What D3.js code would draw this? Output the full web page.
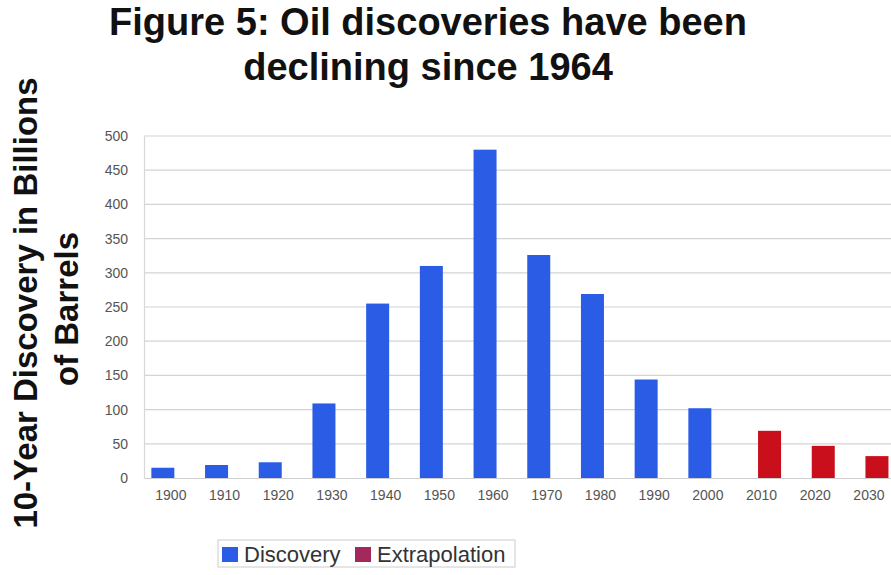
<!DOCTYPE html>
<html>
<head>
<meta charset="utf-8">
<script src="https://cdn.jsdelivr.net/npm/d3@7"></script>
<style>
  html, body { margin: 0; padding: 0; background: #fff; }
  svg { display: block; font-family: "Liberation Sans", Arial, sans-serif; }
</style>
</head>
<body>
<svg id="chart" width="891" height="575"></svg>
<script>
// ---- data ----
const categories = ["1900","1910","1920","1930","1940","1950","1960","1970","1980","1990","2000","2010","2020","2030"];
const seriesNames = ["Discovery", "Extrapolation"];
const discovery = [15, 19, 23, 109, 255, 310, 480, 326, 269, 144, 102, null, null, null];
const extrapolation = [null, null, null, null, null, null, null, null, null, null, null, 69, 47, 32];
const yTicks = [0, 50, 100, 150, 200, 250, 300, 350, 400, 450, 500];
const titleLines = ["Figure 5: Oil discoveries have been", "declining since 1964"];
const yTitleLines = ["10-Year Discovery in Billions", "of Barrels"];

const colors = { Discovery: "#2b5ce6", Extrapolation: "#c90f1c" };
const legendColors = { Discovery: "#2b5ce6", Extrapolation: "#a3295c" };

const svg = d3.select("#chart");
const plotLeft = 144, plotBottom = 478, plotTop = 136;
const step = 53.7;

const x0 = d3.scaleBand().domain(categories).range([plotLeft, plotLeft + step * categories.length]).padding(0);
const x1 = d3.scalePoint().domain(seriesNames).range([-8, 8]);
const y = d3.scaleLinear().domain([0, 500]).range([plotBottom, plotTop]);
const barW = 23;

// gridlines
svg.append("g")
  .selectAll("line")
  .data(yTicks.filter(d => d > 0))
  .join("line")
  .attr("x1", plotLeft).attr("x2", 891)
  .attr("y1", d => y(d)).attr("y2", d => y(d))
  .attr("stroke", "#d4d4d4").attr("stroke-width", 1.2);

// y axis
const yAxis = d3.axisLeft(y).tickValues(yTicks).tickSize(0).tickPadding(16);
const gy = svg.append("g").attr("transform", `translate(${plotLeft},0)`).call(yAxis);
gy.select(".domain").attr("stroke", "#d8d8d8").attr("stroke-width", 1.2);
gy.selectAll("text").attr("font-size", 14).attr("fill", "#555")
  .attr("font-family", "'Liberation Sans', Arial, sans-serif");

// x axis
const xAxis = d3.axisBottom(x0).tickSize(0).tickPadding(12);
const gx = svg.append("g").attr("transform", `translate(0,${plotBottom})`).call(xAxis);
gx.select(".domain").attr("stroke", "#cfcfcf").attr("stroke-width", 1.2);
gx.selectAll("text").attr("font-size", 14).attr("fill", "#555")
  .attr("font-family", "'Liberation Sans', Arial, sans-serif");

// bars
const rows = categories.map((c, i) => ({ c, Discovery: discovery[i], Extrapolation: extrapolation[i] }));
const barData = [];
rows.forEach(r => seriesNames.forEach(s => { if (r[s] != null) barData.push({ c: r.c, s, v: r[s] }); }));
svg.append("g").selectAll("rect")
  .data(barData)
  .join("rect")
  .attr("x", d => x0(d.c) + x0.bandwidth() / 2 + x1(d.s) - barW / 2)
  .attr("width", barW)
  .attr("y", d => y(d.v))
  .attr("height", d => y(0) - y(d.v))
  .attr("fill", d => colors[d.s]);

// title
const titleBaselines = [35, 80];
svg.append("g").selectAll("text")
  .data(titleLines)
  .join("text")
  .attr("x", 428)
  .attr("y", (d, i) => titleBaselines[i])
  .attr("text-anchor", "middle")
  .attr("font-size", 38)
  .attr("font-weight", "bold")
  .attr("fill", "#111")
  .text(d => d);

// y title
const yCenters = [303, 309];
const yXs = [37, 78];
svg.append("g").selectAll("text")
  .data(yTitleLines)
  .join("text")
  .attr("transform", (d, i) => `translate(${yXs[i]},${yCenters[i]}) rotate(-90)`)
  .attr("text-anchor", "middle")
  .attr("font-size", 33)
  .attr("font-weight", "bold")
  .attr("fill", "#111")
  .text(d => d);

// legend
const lg = svg.append("g");
lg.append("rect").attr("x", 218).attr("y", 540).attr("width", 297).attr("height", 27)
  .attr("fill", "#fff").attr("stroke", "#cccccc").attr("stroke-width", 1);
const legendX = [222, 355];
seriesNames.forEach((s, i) => {
  lg.append("rect").attr("x", legendX[i]).attr("y", 547).attr("width", 16).attr("height", 15)
    .attr("fill", legendColors[s]);
  lg.append("text").attr("x", legendX[i] + 22).attr("y", 562)
    .attr("font-size", 22).attr("fill", "#333").text(s);
});
</script>
</body>
</html>
